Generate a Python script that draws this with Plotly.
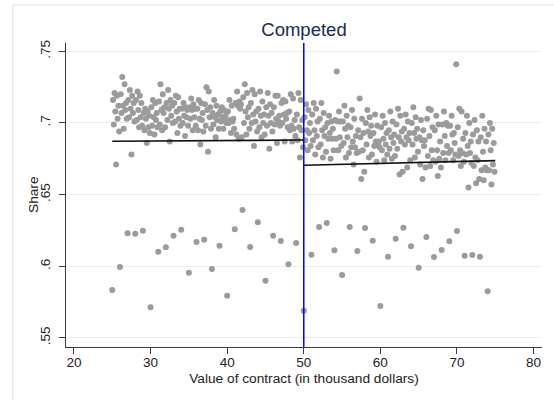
import plotly.graph_objects as go

# ---- data ----
cutoff = 50
# upper band: for each integer x from 25 to 74, nine shares at x+0.1 ... x+0.9 (in thousandths)
upper_first = 25
upper_share = [
    [716, 699, 721, 708, 671, 719, 703, 712, 694],  # 25
    [720, 707, 732, 712, 696, 727, 709, 714, 703],  # 26
    [716, 704, 723, 710, 678, 719, 707, 714, 701],  # 27
    [716, 702, 722, 709, 697, 719, 704, 714, 698],  # 28
    [707, 695, 710, 703, 686, 708, 697, 705, 693],  # 29
    [711, 698, 716, 704, 692, 714, 702, 707, 697],  # 30
    [715, 699, 727, 709, 695, 720, 707, 711, 697],  # 31
    [714, 702, 723, 710, 687, 716, 705, 712, 700],  # 32
    [714, 701, 719, 708, 693, 718, 703, 710, 698],  # 33
    [710, 700, 714, 705, 691, 711, 704, 709, 698],  # 34
    [711, 703, 717, 709, 695, 713, 704, 710, 698],  # 35
    [710, 695, 716, 703, 685, 714, 702, 707, 694],  # 36
    [713, 698, 725, 709, 680, 722, 704, 711, 696],  # 37
    [707, 699, 716, 704, 690, 712, 702, 706, 696],  # 38
    [708, 701, 711, 704, 696, 709, 703, 705, 700],  # 39
    [708, 700, 716, 702, 693, 712, 701, 703, 696],  # 40
    [714, 692, 722, 712, 689, 715, 710, 713, 690],  # 41
    [718, 700, 727, 708, 692, 721, 704, 711, 696],  # 42
    [714, 700, 723, 706, 684, 720, 701, 708, 694],  # 43
    [710, 697, 722, 705, 690, 715, 700, 706, 692],  # 44
    [711, 698, 721, 705, 682, 713, 700, 707, 694],  # 45
    [711, 699, 719, 703, 686, 719, 701, 705, 698],  # 46
    [714, 700, 716, 706, 687, 715, 703, 707, 697],  # 47
    [708, 695, 720, 698, 687, 717, 696, 702, 691],  # 48
    [706, 688, 721, 697, 676, 716, 695, 702, 683],  # 49
    [704, 688, 713, 695, 681, 709, 693, 700, 684],  # 50
    [706, 688, 714, 695, 678, 710, 691, 701, 683],  # 51
    [703, 685, 714, 695, 676, 707, 691, 697, 680],  # 52
    [700, 689, 705, 693, 675, 701, 689, 696, 681],  # 53
    [702, 689, 736, 701, 681, 708, 690, 701, 684],  # 54
    [701, 686, 712, 696, 676, 705, 690, 698, 679],  # 55
    [697, 683, 709, 687, 671, 703, 683, 691, 679],  # 56
    [695, 680, 717, 690, 661, 703, 681, 693, 666],  # 57
    [700, 685, 709, 694, 676, 704, 691, 698, 678],  # 58
    [693, 684, 706, 687, 673, 698, 686, 687, 683],  # 59
    [697, 681, 705, 689, 674, 700, 685, 693, 678],  # 60
    [695, 682, 708, 690, 675, 701, 686, 692, 677],  # 61
    [699, 682, 710, 690, 664, 705, 687, 694, 666],  # 62
    [696, 685, 706, 690, 669, 701, 688, 693, 674],  # 63
    [700, 685, 711, 693, 676, 704, 689, 696, 680],  # 64
    [690, 671, 702, 688, 661, 695, 684, 688, 669],  # 65
    [703, 677, 710, 691, 670, 709, 681, 697, 674],  # 66
    [695, 673, 705, 681, 663, 699, 675, 687, 669],  # 67
    [699, 679, 708, 691, 674, 700, 684, 698, 679],  # 68
    [698, 681, 705, 692, 674, 693, 686, 678, 741],  # 69
    [697, 677, 710, 681, 670, 708, 679, 689, 673],  # 70
    [693, 678, 705, 684, 655, 700, 679, 687, 672],  # 71
    [692, 670, 702, 676, 658, 695, 674, 687, 661],  # 72
    [690, 667, 705, 680, 660, 696, 669, 687, 667],  # 73
    [692, 667, 700, 681, 657, 696, 671, 686, 666],  # 74
]
# lower band: one point at each integer x
lower_x = list(range(25, 75))
lower_share = [
    .5835, .5995, .6230, .6228, .6248, .5714, .6102, .6133, .6214, .6255,
    .5955, .6170, .6186, .5981, .6144, .5795, .6258, .6393, .6135, .6307,
    .5900, .6214, .6177, .6014, .6163, .5690, .6081, .6274, .6302, .6112,
    .5939, .6274, .6107, .6267, .6179, .5723, .6067, .6193, .6269, .6140,
    .5990, .6204, .6065, .6114, .6174, .6246, .6074, .6079, .6067, .5826,
]
# fitted lines (endpoints)
fit_left_x = [25, 50]
fit_left_y = [0.6872, 0.6881]
fit_right_x = [50, 75]
fit_right_y = [0.6705, 0.6737]

x_ticks = [20, 30, 40, 50, 60, 70, 80]
y_ticks = [0.55, 0.60, 0.65, 0.70, 0.75]
y_ticktext = [".55", ".6", ".65", ".7", ".75"]

# ---- build point lists ----
pts_x, pts_y = [], []
for i, row in enumerate(upper_share):
    k = upper_first + i
    for j, v in enumerate(row):
        pts_x.append(round(k + (j + 1) / 10, 1))
        pts_y.append(v / 1000)
pts_x += lower_x
pts_y += lower_share

FONT = "Liberation Sans, Arial, Helvetica, sans-serif"
AX = "#3a3a3a"

fig = go.Figure()
fig.add_trace(go.Scatter(x=pts_x, y=pts_y, mode="markers",
                         marker=dict(color="#9b9b9b", size=6, line=dict(width=0)),
                         showlegend=False, hoverinfo="skip"))
fig.add_trace(go.Scatter(x=fit_left_x, y=fit_left_y, mode="lines",
                         line=dict(color="#111111", width=1.6), showlegend=False))
fig.add_trace(go.Scatter(x=fit_right_x, y=fit_right_y, mode="lines",
                         line=dict(color="#111111", width=1.6), showlegend=False))

fig.add_shape(type="line", xref="x", yref="paper", x0=cutoff, x1=cutoff, y0=0, y1=1,
              line=dict(color="#0000ff", width=1.5))
# outer graph-region frame
fig.add_shape(type="rect", xref="paper", yref="paper",
              x0=-0.112, x1=1.06, y0=-0.23, y1=1.125,
              line=dict(color="#dbe5e7", width=1.2), layer="above")

fig.add_annotation(text="Share", xref="paper", yref="paper", x=(33 - 66) / 476, y=0.5,
                   xanchor="center", yanchor="middle", textangle=-90, showarrow=False,
                   font=dict(size=13.7, color="#222", family=FONT))

fig.update_layout(
    width=554, height=400,
    margin=dict(l=66, r=12, t=43, b=53),
    paper_bgcolor="white", plot_bgcolor="white",
    font=dict(family=FONT, size=13.5, color="#222"),
    title=dict(text="Competed", x=0.5, xref="paper", xanchor="center",
               y=1 - 30 / 400, yref="container", yanchor="middle",
               font=dict(size=18.5, color="#1c2b4f", family=FONT)),
    xaxis=dict(range=[18.96, 81.1], tickvals=x_ticks, ticks="outside", ticklen=6,
               tickcolor=AX, showline=True, linecolor=AX, linewidth=1,
               showgrid=False, zeroline=False, ticklabelstandoff=-3,
               tickfont=dict(size=13.5, color="#222"),
               title=dict(text="Value of contract (in thousand dollars)", standoff=4,
                          font=dict(size=13.7, color="#222"))),
    yaxis=dict(range=[0.5437, 0.7558], tickvals=y_ticks, ticktext=y_ticktext,
               tickangle=-90, ticks="outside", ticklen=6, tickcolor=AX,
               showline=True, linecolor=AX, linewidth=1, ticklabelstandoff=4,
               showgrid=True, gridcolor="#e8eff1", gridwidth=1, zeroline=False,
               tickfont=dict(size=13.5, color="#222")),
)

fig.write_html("out.html")
